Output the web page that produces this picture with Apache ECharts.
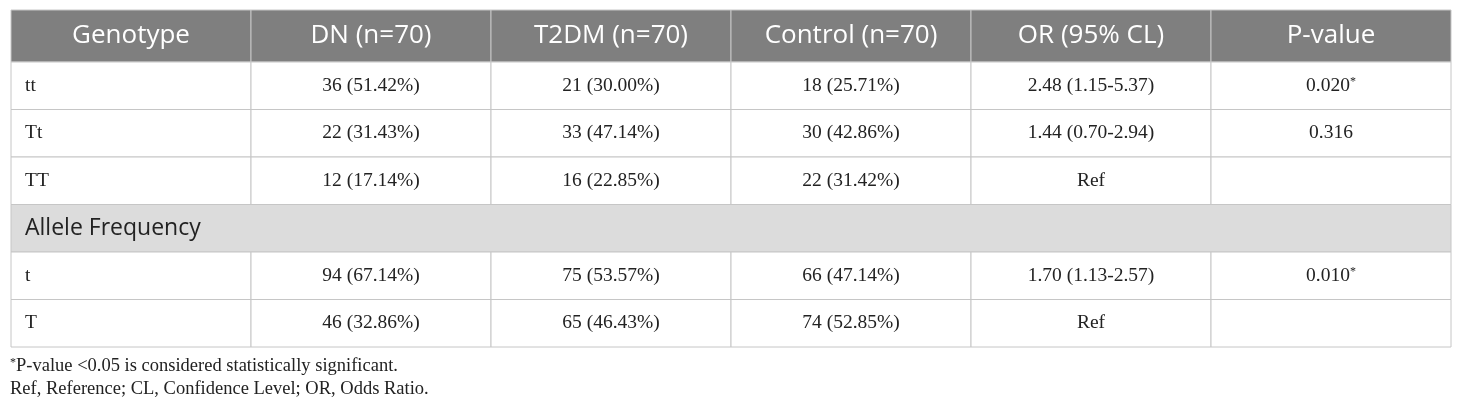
<!DOCTYPE html>
<html>
<head>
<meta charset="utf-8">
<script src="https://cdn.jsdelivr.net/npm/echarts@6/dist/echarts.min.js"></script>
<style>
  html, body { margin: 0; padding: 0; background: #fff; }
  #table_1 { width: 1460px; height: 410px; }
</style>
</head>
<body>
<div id="table_1"></div>
<script>
// column headers and row labels
var columns = ['Genotype', 'DN (n=70)', 'T2DM (n=70)', 'Control (n=70)', 'OR (95% CL)', 'P-value'];
var rowLabels = ['tt', 'Tt', 'TT', 'Allele Frequency', 't', 'T'];
// cell values per column ('' = empty cell)
var dnValues = ['36 (51.42%)', '22 (31.43%)', '12 (17.14%)', '', '94 (67.14%)', '46 (32.86%)'];
var t2dmValues = ['21 (30.00%)', '33 (47.14%)', '16 (22.85%)', '', '75 (53.57%)', '65 (46.43%)'];
var controlValues = ['18 (25.71%)', '30 (42.86%)', '22 (31.42%)', '', '66 (47.14%)', '74 (52.85%)'];
var orValues = ['2.48 (1.15-5.37)', '1.44 (0.70-2.94)', 'Ref', '', '1.70 (1.13-2.57)', 'Ref'];
var pValues = ['0.020*', '0.316', '', '', '0.010*', ''];
var sectionRows = ['Allele Frequency'];
var footnotes = ['*P-value <0.05 is considered statistically significant.',
                 'Ref, Reference; CL, Confidence Level; OR, Odds Ratio.'];

(function () {
    var myChart = echarts.init(document.getElementById('table_1'));
    var serif = '"Liberation Serif", "Times New Roman", serif';
    var sans = '"Open Sans", "Noto Sans", sans-serif';
    var lineColor = '#c6c6c6';

    var bodyCols = [rowLabels, dnValues, t2dmValues, controlValues, orValues, pValues];

    // header cells
    var headData = [];
    for (var c = 0; c < columns.length; c++) {
        headData.push({ value: [c, 0, 1], text: columns[c] });
    }

    // body cells
    var bodyData = [];
    for (var r = 0; r < rowLabels.length; r++) {
        if (sectionRows.indexOf(rowLabels[r]) >= 0) {
            bodyData.push({ value: [0, r, columns.length], text: rowLabels[r], section: true });
            continue;
        }
        for (var c = 0; c < columns.length; c++) {
            bodyData.push({ value: [c, r, 1], text: bodyCols[c][r] });
        }
    }

    function cellText(txt) {
        // star after a p-value is drawn raised and small
        if (txt && txt.charAt(txt.length - 1) === '*') {
            return '{n|' + txt.slice(0, -1) + '}{s|*}';
        }
        return '{n|' + txt + '}';
    }

    function makeRender(isHead) {
        return function (params, api) {
            var col = api.value(0), row = api.value(1), span = api.value(2);
            var item = (isHead ? headData : bodyData)[params.dataIndex];
            var center = api.coord([col, row]);
            var size = api.size([1, 1]);
            var x = center[0] - size[0] / 2, y = center[1] - size[1] / 2;
            var w = size[0] * span, h = size[1];
            var fill = isHead ? '#7f7f7f' : (item.section ? '#dcdcdc' : '#ffffff');
            var left = col === 0;
            var textStyle;
            if (isHead) {
                textStyle = { text: item.text, x: x + w / 2, y: y + h / 2, align: 'center', verticalAlign: 'middle',
                    fill: '#ffffff', font: '26px ' + sans };
            } else if (item.section) {
                textStyle = { text: item.text, x: x + 14, y: y + h / 2, align: 'left', verticalAlign: 'middle',
                    fill: '#222222', font: '23px ' + sans };
            } else {
                textStyle = { text: cellText(item.text), x: left ? x + 14 : x + w / 2, y: y + h / 2,
                    align: left ? 'left' : 'center', verticalAlign: 'middle',
                    rich: {
                        n: { fontFamily: serif, fontSize: 19.5, fill: '#222222' },
                        s: { fontFamily: serif, fontSize: 12, fill: '#222222', padding: [0, 0, 8, 0] }
                    } };
            }
            return {
                type: 'group',
                children: [
                    { type: 'rect', shape: { x: x, y: y, width: w, height: h },
                      style: { fill: fill, stroke: lineColor, lineWidth: 1 } },
                    { type: 'text', style: textStyle }
                ]
            };
        };
    }

    var option = {
        animation: false,
        grid: [
            { left: 11, right: 9, top: 10, height: 52 },
            { left: 11, right: 9, top: 62, height: 285 }
        ],
        xAxis: [
            { type: 'category', data: columns, gridIndex: 0, show: false },
            { type: 'category', data: columns, gridIndex: 1, show: false }
        ],
        yAxis: [
            { type: 'category', data: ['header'], gridIndex: 0, show: false },
            { type: 'category', data: rowLabels, gridIndex: 1, show: false, inverse: true }
        ],
        graphic: [{
            type: 'text', left: 10, top: 357,
            style: {
                text: '{s|*}{n|' + footnotes[0].slice(1) + '}\n{n|' + footnotes[1] + '}',
                rich: {
                    n: { fontFamily: serif, fontSize: 18.5, fill: '#222222', lineHeight: 23 },
                    s: { fontFamily: serif, fontSize: 12, fill: '#222222', padding: [0, 0, 7, 0], lineHeight: 23 }
                }
            }
        }],
        series: [
            { type: 'custom', xAxisIndex: 0, yAxisIndex: 0, renderItem: makeRender(true), data: headData },
            { type: 'custom', xAxisIndex: 1, yAxisIndex: 1, renderItem: makeRender(false), data: bodyData }
        ]
    };

    myChart.setOption(option);
    window.addEventListener('resize', function () {
        myChart.resize();
    });
})();
</script>
</body>
</html>
